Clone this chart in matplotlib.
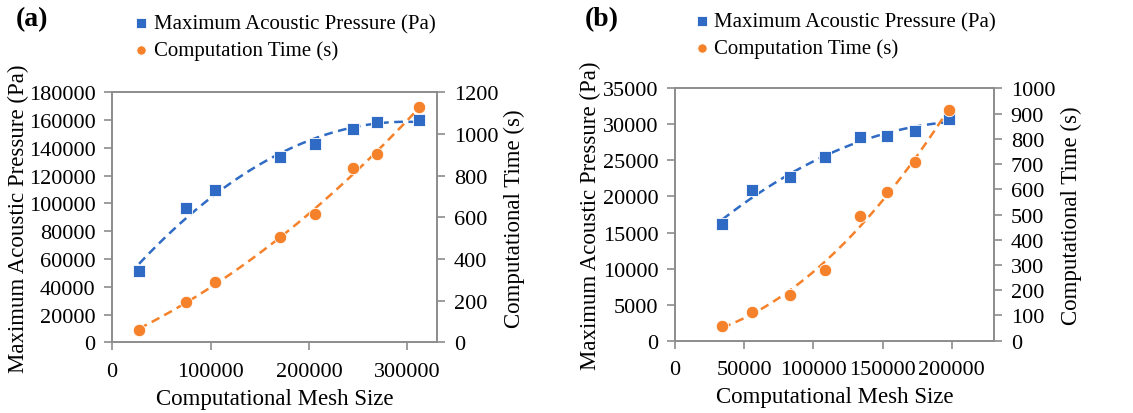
import numpy as np
import matplotlib
matplotlib.use("Agg")
import matplotlib.pyplot as plt

plt.rcParams['font.family'] = ['Liberation Serif', 'DejaVu Serif']

# panel (a)
mesh_a = [27400, 75000, 105000, 171000, 205700, 245000, 269000, 312000]
pressure_a = [51000, 96500, 110000, 133400, 142800, 153600, 158900, 160100]
time_a = [60, 195, 288, 504, 617, 837, 902, 1129]

# panel (b)
mesh_b = [34200, 55600, 83100, 108600, 133700, 152900, 173200, 198200]
pressure_b = [16200, 20900, 22700, 25500, 28300, 28450, 29050, 30750]
time_b = [59, 112, 181, 281, 495, 590, 707, 915]

blue = '#2F6BC4'
orange = '#F5822A'
spine_col = '#8C8C8C'
fs_tick = 16
fs_lab = 16.5
fs_leg = 15


def trend(ax, x, y, col):
    c = np.polyfit(x, y, 2)
    xs = np.linspace(min(x), max(x), 200)
    ax.plot(xs, np.polyval(c, xs), color=col, lw=1.8, ls=(0, (3.5, 2.2)), zorder=2)


def style(ax):
    for s in ax.spines.values():
        s.set_color(spine_col)
        s.set_linewidth(1.2)
    ax.tick_params(direction='out', length=6, width=1.2, color=spine_col,
                   labelsize=fs_tick, pad=6)
    ax.tick_params(axis='x', pad=8)


def panel(rect, mesh, pres, tm, xlim, xticks, ylim, yticks, y2lim, y2ticks,
          tag, leg_xy, ylpad):
    ax = fig.add_axes(rect)
    ax2 = ax.twinx()
    trend(ax, mesh, pres, blue)
    trend(ax2, mesh, tm, orange)
    h1 = ax.scatter(mesh, pres, marker='s', s=75, color=blue, edgecolors='white',
                    linewidths=0.6, zorder=3, label='Maximum Acoustic Pressure (Pa)')
    h2 = ax2.scatter(mesh, tm, marker='o', s=80, color=orange, edgecolors='white',
                     linewidths=0.6, zorder=3, label='Computation Time (s)')
    ax.set_xlim(*xlim)
    ax.set_xticks(xticks)
    ax.set_ylim(*ylim)
    ax.set_yticks(yticks)
    ax2.set_ylim(*y2lim)
    ax2.set_yticks(y2ticks)
    style(ax)
    style(ax2)
    ax.set_xlabel('Computational Mesh Size', fontsize=fs_lab, labelpad=5)
    ax.set_ylabel('Maximum Acoustic Pressure (Pa)', fontsize=fs_lab, labelpad=ylpad)
    ax2.set_ylabel('Computational Time (s)', fontsize=fs_lab, labelpad=4)
    fig.legend([h1, h2], [h1.get_label(), h2.get_label()], loc='upper left',
               bbox_to_anchor=leg_xy, frameon=False, fontsize=fs_leg,
               handletextpad=0.1, labelspacing=0.35, borderaxespad=0,
               handlelength=1.0, markerscale=0.75)
    fig.text(tag[0], tag[1], tag[2], fontsize=20, fontweight='bold', va='center')


fig = plt.figure(figsize=(11.33, 4.14), dpi=100)

panel([0.0989, 0.1707, 0.2868, 0.6039], mesh_a, pressure_a, time_a,
      (0, 330000), [0, 100000, 200000, 300000],
      (0, 180000), np.arange(0, 180001, 20000),
      (0, 1200), np.arange(0, 1201, 200),
      (0.014, 0.952, '(a)'), (0.108, 0.985), 0)

panel([0.5958, 0.1746, 0.2815, 0.6097], mesh_b, pressure_b, time_b,
      (0, 230500), [0, 50000, 100000, 150000, 200000],
      (0, 35000), np.arange(0, 35001, 5000),
      (0, 1000), np.arange(0, 1001, 100),
      (0.516, 0.952, '(b)'), (0.603, 0.99), 1)

fig.savefig('out.png', dpi=100)
